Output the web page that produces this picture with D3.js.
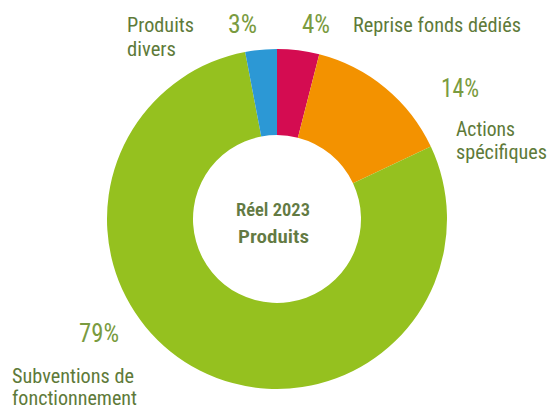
<!DOCTYPE html>
<html>
<head>
<meta charset="utf-8">
<script src="https://cdn.jsdelivr.net/npm/d3@7"></script>
<style>
  html, body { margin: 0; padding: 0; background: #fff; }
  svg { display: block; }
  text { font-family: "Roboto Condensed", "Liberation Sans Narrow", "DejaVu Sans Condensed", Roboto, sans-serif; font-stretch: condensed; }
</style>
</head>
<body>
<svg id="chart" width="552" height="410"></svg>
<script>
// ---- data ----
const categories = ["Reprise fonds dédiés", "Actions spécifiques", "Subventions de fonctionnement", "Produits divers"];
const values = [4, 14, 79, 3];
const percentLabels = ["4%", "14%", "79%", "3%"];
const nameLines = [["Reprise fonds dédiés"], ["Actions", "spécifiques"], ["Subventions de", "fonctionnement"], ["Produits", "divers"]];
const centerLines = ["Réel 2023", "Produits"];

// ---- styles / layout ----
const colors = ["#D40C51", "#F39200", "#95C11F", "#2C98D5"];
const cx = 277, cy = 219, outerR = 170, innerR = 84;
// label layout per category: percent [x, baseline, width], name lines [x, baseline, width]
const pctPos = [[302, 33, 28], [441, 97, 38], [79, 342, 40], [228, 33, 29]];
const namePos = [
  [[353, 32, 168]],
  [[456, 136, 59], [456, 159, 91]],
  [[12, 383, 122], [12, 405, 125]],
  [[127, 32, 67], [127, 56, 49]]
];
const centerPos = [[236, 216, 74], [238, 243, 71]];

const svg = d3.select("#chart");

const pie = d3.pie().sort(null).value(d => d).startAngle(0).endAngle(2 * Math.PI);
const arc = d3.arc().innerRadius(innerR).outerRadius(outerR);

svg.append("g")
  .attr("transform", `translate(${cx},${cy})`)
  .selectAll("path")
  .data(pie(values))
  .join("path")
  .attr("d", arc)
  .attr("fill", (d, i) => colors[i]);

const labels = svg.append("g");

percentLabels.forEach((p, i) => {
  const [x, y, w] = pctPos[i];
  labels.append("text")
    .attr("x", x).attr("y", y)
    .attr("textLength", w).attr("lengthAdjust", "spacingAndGlyphs")
    .attr("font-size", 26).attr("font-weight", 400)
    .attr("fill", "#7A9B40")
    .text(p);
});

nameLines.forEach((lines, i) => {
  lines.forEach((line, j) => {
    const [x, y, w] = namePos[i][j];
    labels.append("text")
      .attr("x", x).attr("y", y)
      .attr("textLength", w).attr("lengthAdjust", "spacingAndGlyphs")
      .attr("font-size", 21)
      .attr("fill", "#5E7A39")
      .text(line);
  });
});

centerLines.forEach((line, j) => {
  const [x, y, w] = centerPos[j];
  labels.append("text")
    .attr("x", x).attr("y", y)
    .attr("textLength", w).attr("lengthAdjust", "spacingAndGlyphs")
    .attr("font-size", 19).attr("font-weight", 600)
    .attr("fill", "#637A43")
    .text(line);
});
</script>
</body>
</html>
